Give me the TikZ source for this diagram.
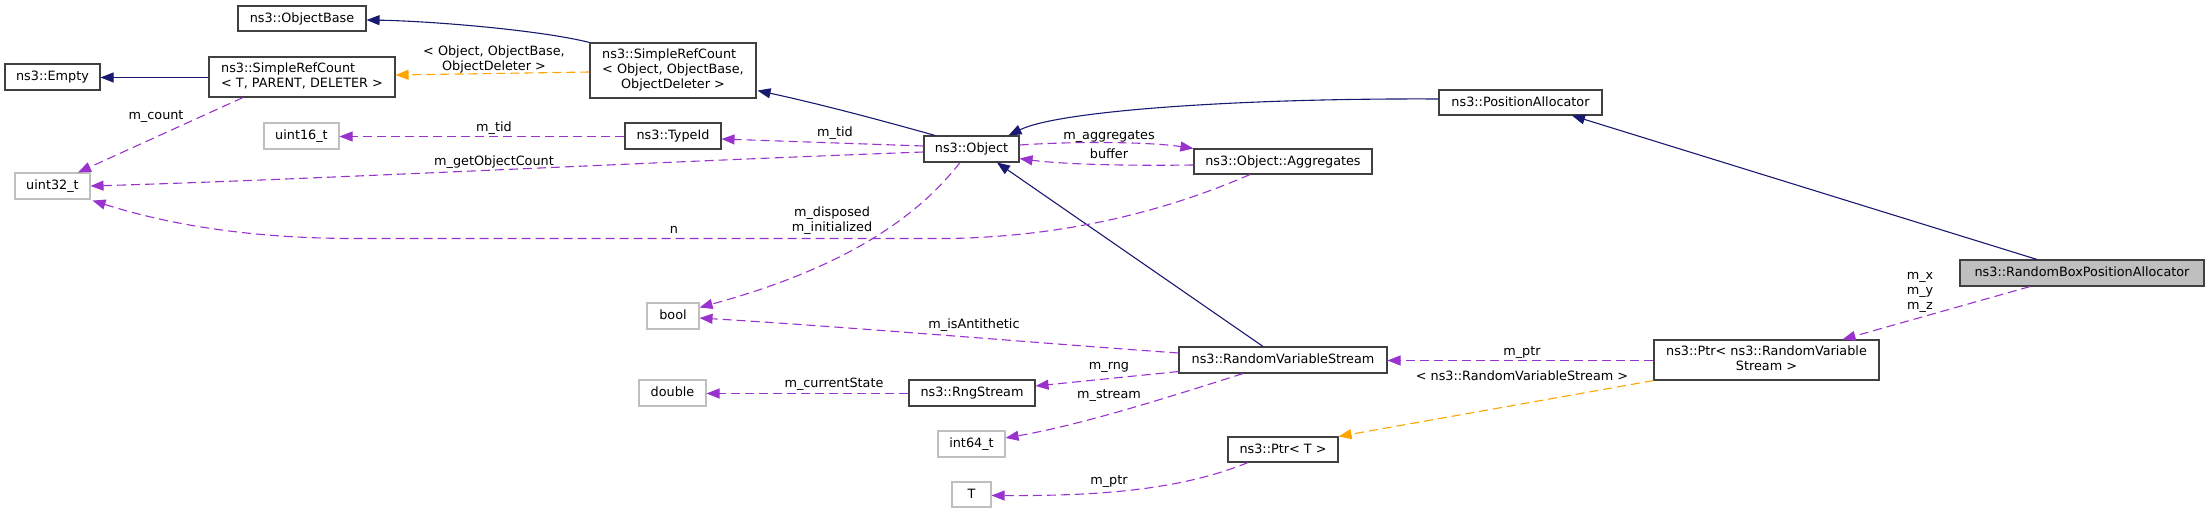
\documentclass[tikz,border=0pt]{standalone}
\usepackage{fontspec}
\setmainfont{DejaVu Sans}
\usetikzlibrary{arrows.meta,calc}
\definecolor{navyc}{HTML}{191970}
\definecolor{purpc}{HTML}{9A32CD}
\definecolor{orngc}{HTML}{FFA500}
\definecolor{dkbc}{HTML}{404040}
\definecolor{ltgc}{HTML}{BFBFBF}
\newcommand\dfont{\fontsize{6.4pt}{7.5pt}\selectfont}
\begin{document}
\begin{tikzpicture}[x=0.5pt,y=-0.5pt,
  bx/.style={draw=dkbc, line width=0.55pt, fill=white, inner sep=0pt, font=\dfont, anchor=center},
  one/.style={text height=5pt, text depth=1pt},
  ext/.style={bx, one, draw=ltgc},
  cls/.style={bx, one},
  root/.style={bx, one, fill=ltgc},
  tip/.style={-{Triangle[length=6.5pt,width=5pt]}},
  inh/.style={tip, draw=navyc, line width=0.55pt},
  use/.style={tip, draw=purpc, line width=0.55pt, dash pattern=on 4.5pt off 2.5pt},
  tpl/.style={tip, draw=orngc, line width=0.55pt, dash pattern=on 4.5pt off 2.5pt},
  lab/.style={font=\dfont, inner sep=0pt, text=black}]
\useasboundingbox (0,0) rectangle (2208,513);

% nodes
\node[cls, minimum width=64pt, minimum height=12.5pt] (ob) at (302,18.5) {ns3::ObjectBase};
\node[cls, minimum width=47.5pt, minimum height=13pt] (empty) at (52.5,77) {ns3::Empty};
\node[bx, minimum width=93pt, minimum height=20pt] (srcT) at (302,77)
  {\begin{tabular}{@{}l@{}}ns3::SimpleRefCount\\< T, PARENT, DELETER >\end{tabular}};
\node[bx, minimum width=83pt, minimum height=27.5pt] (srcO) at (673,70.5)
  {\begin{tabular}{@{}l@{}}ns3::SimpleRefCount\\< Object, ObjectBase,\\\multicolumn{1}{@{}c@{}}{ObjectDeleter >}\end{tabular}};
\node[ext, minimum width=37.5pt, minimum height=13pt] (u16) at (301.5,136) {uint16\_t};
\node[cls, minimum width=48pt, minimum height=13pt] (tid) at (673,136) {ns3::TypeId};
\node[ext, minimum width=37.5pt, minimum height=13pt] (u32) at (52.5,186) {uint32\_t};
\node[cls, minimum width=47.5pt, minimum height=13pt] (obj) at (971.5,149) {ns3::Object};
\node[cls, minimum width=89pt, minimum height=12.5pt] (agg) at (1283,161.5) {ns3::Object::Aggregates};
\node[cls, minimum width=81.5pt, minimum height=12.5pt] (pa) at (1520.5,102.5) {ns3::PositionAllocator};
\node[root, minimum width=122pt, minimum height=13pt] (rbpa) at (2082,273) {ns3::RandomBoxPositionAllocator};
\node[ext, minimum width=26pt, minimum height=13pt] (bool) at (673,316) {bool};
\node[ext, minimum width=33.5pt, minimum height=13pt] (dbl) at (672.5,393) {double};
\node[cls, minimum width=63pt, minimum height=13pt] (rng) at (972,393) {ns3::RngStream};
\node[cls, minimum width=104pt, minimum height=13pt] (rvs) at (1283,360) {ns3::RandomVariableStream};
\node[bx, minimum width=112.5pt, minimum height=20pt] (ptrrvs) at (1766.5,360)
  {\begin{tabular}{@{}c@{}}ns3::Ptr< ns3::RandomVariable\\Stream >\end{tabular}};
\node[ext, minimum width=33.5pt, minimum height=13pt] (i64) at (971.5,444) {int64\_t};
\node[cls, minimum width=55pt, minimum height=12.5pt] (ptrT) at (1283,449.5) {ns3::Ptr< T >};
\node[ext, minimum width=19.5pt, minimum height=12.5pt] (T) at (971.5,494.5) {T};

% inheritance
\draw[inh] (srcO.north west) .. controls (540,30) and (430,21) .. ($(ob.east)+(0,1.5)$);
\draw[inh] ($(srcT.west)+(0,0.5)$) -- ($(empty.east)+(0,0.5)$);
\draw[inh] ($(obj.north)+(-36.5,0)$) .. controls (880,120) and (820,104) .. ($(srcO.south east)+(1,-8)$);
\draw[inh] ($(pa.west)+(0,-3.5)$) .. controls (1250,98) and (1060,110) .. ($(obj.north east)+(-11,0)$);
\draw[inh] ($(rvs.north)+(-20,0)$) -- ($(obj.south)+(25.5,0)$);
\draw[inh] ($(rbpa.north)+(-45,0)$) -- ($(pa.south)+(51.5,0)$);

% template
\draw[tpl] ($(srcO.west)+(0,1.5)$) -- ($(srcT.east)+(0,-2)$);
\draw[tpl] (ptrrvs.south west) -- (ptrT.north east);

% usage
\draw[use] ($(tid.west)+(0,0.5)$) -- ($(u16.east)+(0,0.5)$);
\draw[use] ($(obj.west)+(0,-3)$) -- ($(tid.east)+(0,3)$);
\draw[use] ($(obj.west)+(0,3)$) .. controls (650,162) and (300,180) .. (u32.east);
\draw[use] ($(srcT.south)+(-59,0)$) -- ($(u32.north)+(25.5,0)$);
\draw[use] ($(agg.south)+(-33,0)$) .. controls (1180,205) and (1080,236) .. (950,238.5) -- (350,238.5) .. controls (250,238) and (170,225) .. ($(u32.south east)+(2,1)$);
\draw[use] ($(obj.east)+(0,-4)$) .. controls (1080,141) and (1150,142) .. (agg.north west);
\draw[use] ($(agg.west)+(0,3.5)$) .. controls (1120,166) and (1060,164) .. ($(obj.south east)+(0,-4)$);
\draw[use] ($(obj.south)+(-11.5,0)$) .. controls (900,240) and (800,280) .. ($(bool.north east)+(0,5)$);
\draw[use] ($(rvs.west)+(0,-7)$) .. controls (1050,344) and (850,327) .. ($(bool.east)+(0,2)$);
\draw[use] ($(rvs.south west)+(0,-2)$) -- ($(rng.east)+(0,-7)$);
\draw[use] ($(rng.west)+(0,0.5)$) -- ($(dbl.east)+(0,0.5)$);
\draw[use] ($(rvs.south)+(-40,0)$) .. controls (1160,400) and (1080,425) .. ($(i64.east)+(0,-6)$);
\draw[use] ($(ptrT.south)+(-35,0)$) .. controls (1180,490) and (1100,496) .. ($(T.east)+(0,1)$);
\draw[use] ($(ptrrvs.west)+(0,0.5)$) -- ($(rvs.east)+(0,0.5)$);
\draw[use] ($(rbpa.south)+(-52,0)$) -- ($(ptrrvs.north)+(76,0)$);

% labels
\node[lab, align=center] (l1) at (494,59.5) {< Object, ObjectBase,\\ObjectDeleter >};
\node[lab, anchor=base] (l2) at (156,119.5) {m\_count};
\node[lab, anchor=base] (l3) at (494,132) {m\_tid};
\node[lab, anchor=base] (l4) at (494,165.5) {m\_getObjectCount};
\node[lab, anchor=base] (l5) at (674,234) {n};
\node[lab, anchor=base] (l6) at (835,136.5) {m\_tid};
\node[lab, align=center] (l7) at (832,221) {m\_disposed\\m\_initialized};
\node[lab, anchor=base] (l8) at (1109,139.5) {m\_aggregates};
\node[lab, anchor=base] (l9) at (1109,158.5) {buffer};
\node[lab, anchor=base] (l10) at (974,328.5) {m\_isAntithetic};
\node[lab, anchor=base] (l11) at (834,388) {m\_currentState};
\node[lab, anchor=base] (l12) at (1109,369.5) {m\_rng};
\node[lab, anchor=base] (l13) at (1109,398.5) {m\_stream};
\node[lab, anchor=base] (l14) at (1109,484.5) {m\_ptr};
\node[lab, anchor=base] (l15) at (1522,356) {m\_ptr};
\node[lab, anchor=base] (l16) at (1522,380.5) {< ns3::RandomVariableStream >};
\node[lab, align=center] (l17) at (1920,292) {m\_x\\m\_y\\m\_z};
\end{tikzpicture}
\end{document}
